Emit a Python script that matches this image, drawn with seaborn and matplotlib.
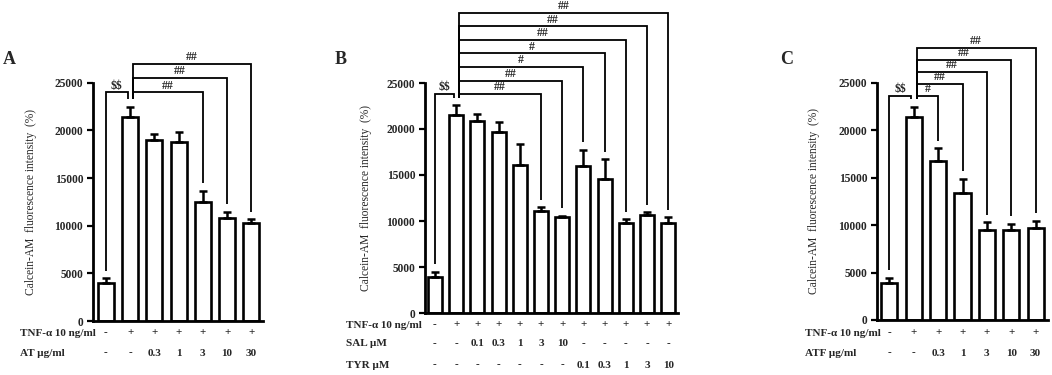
import numpy as np
import pandas as pd
import matplotlib
matplotlib.use("Agg")
import matplotlib.pyplot as plt
import matplotlib.transforms as mtransforms
import seaborn as sns

# ---------------- data ----------------
# Panel A
a_mean = [4020, 21370, 18960, 18810, 12450, 10800, 10310]
a_err = [460, 1110, 690, 990, 1190, 670, 360]
a_tnf = ["-", "+", "+", "+", "+", "+", "+"]
a_dose = ["-", "-", "0.3", "1", "3", "10", "30"]
a_sig_targets = [4, 5, 6]
a_sig_labels = ["##", "##", "##"]

# Panel B
b_mean = [3950, 21500, 20900, 19670, 16090, 11120, 10400, 16000, 14560, 9820, 10650, 9820]
b_err = [540, 1080, 700, 1060, 2280, 370, 180, 1750, 2180, 360, 330, 580]
b_tnf = ["-", "+", "+", "+", "+", "+", "+", "+", "+", "+", "+", "+"]
b_sal = ["-", "-", "0.1", "0.3", "1", "3", "10", "-", "-", "-", "-", "-"]
b_tyr = ["-", "-", "-", "-", "-", "-", "-", "0.1", "0.3", "1", "3", "10"]
b_sig_targets = [5, 6, 7, 8, 9, 10, 11]
b_sig_labels = ["##", "##", "#", "#", "##", "##", "##"]

# Panel C
c_mean = [3870, 21350, 16780, 13350, 9480, 9480, 9720]
c_err = [590, 1120, 1300, 1500, 810, 630, 740]
c_tnf = ["-", "+", "+", "+", "+", "+", "+"]
c_dose = ["-", "-", "0.3", "1", "3", "10", "30"]
c_sig_targets = [2, 3, 4, 5, 6]
c_sig_labels = ["#", "##", "##", "##", "##"]

ctrl_label = "$$"
y_ticks = [0, 5000, 10000, 15000, 20000, 25000]
ylabel_text = "Calcein-AM  fluorescence intensity  (%)"

# ---------------- style ----------------
sns.set_style("white")
plt.rcParams["font.family"] = ["Liberation Serif", "DejaVu Serif"]
plt.rcParams["mathtext.default"] = "regular"

W, H = 1052, 375
fig = plt.figure(figsize=(W / 100, H / 100), dpi=100)
fig.patch.set_facecolor("white")


def add_axes_px(l, r, top, bottom):
    return fig.add_axes([l / W, 1 - bottom / H, (r - l) / W, (bottom - top) / H])


def draw_panel(ax, means, errs, xlim, letter, letter_xy, rows, row_ys,
               row_label_x, targets, labels, base, step, ylabel_x):
    n = len(means)
    df = pd.DataFrame({"pos": list(range(n)), "val": means})
    sns.barplot(data=df, x="pos", y="val", ax=ax, color="white",
                edgecolor="black", linewidth=1.9, width=0.66,
                errorbar=None, saturation=1)
    ax.errorbar(df["pos"], df["val"], yerr=[np.zeros(n), errs], fmt="none",
                ecolor="black", elinewidth=1.8, capsize=3, capthick=1.8,
                zorder=3)
    ax.set_xlim(*xlim)
    ax.set_ylim(0, 25000)
    ax.set_yticks(y_ticks)
    ax.set_yticklabels([str(t) for t in y_ticks])
    for lbl in ax.get_yticklabels():
        lbl.set_fontweight("bold")
        lbl.set_fontsize(8.3)
    ax.tick_params(axis="y", direction="out", length=4, width=1.6, pad=3,
                   left=True, color="black")
    ax.tick_params(axis="x", length=0, labelbottom=False)
    for s in ["top", "right"]:
        ax.spines[s].set_visible(False)
    for s in ["left", "bottom"]:
        ax.spines[s].set_linewidth(2.0)
        ax.spines[s].set_color("black")
    ax.set_xlabel("")
    ax.set_ylabel(ylabel_text, fontsize=8.3)
    ax.yaxis.set_label_coords(ylabel_x, 0.5)
    ax.set_facecolor("white")

    # significance brackets
    tops = [m + e for m, e in zip(means, errs)]
    gap = 800
    kw = dict(color="black", lw=1.3, clip_on=False, solid_capstyle="butt",
              solid_joinstyle="miter")
    x1, x2 = 0, 1 - 0.1
    ax.plot([x1, x1, x2, x2], [tops[0] + gap, base, base, tops[1] + gap], **kw)
    ax.annotate(ctrl_label.replace("$", r"\$"), ((x1 + x2) / 2, base),
                xytext=(0, 0.5), textcoords="offset points", ha="center",
                va="bottom", fontsize=8.5, fontweight="bold",
                annotation_clip=False)
    xs = 1 + 0.12
    for i, (t, lab) in enumerate(zip(targets, labels)):
        lvl = base + i * step
        ax.plot([xs, xs, t, t], [tops[1] + gap, lvl, lvl, tops[t] + gap], **kw)
        ax.annotate(lab, ((xs + t) / 2, lvl), xytext=(0, 0.5),
                    textcoords="offset points", ha="center", va="bottom",
                    fontsize=8.5, fontweight="bold", annotation_clip=False)

    # treatment rows below the axis
    trans = mtransforms.blended_transform_factory(ax.transData, fig.transFigure)
    for (row_label, values), y in zip(rows, row_ys):
        fig.text(row_label_x / W, 1 - y / H, row_label, ha="left",
                 va="center", fontsize=8, fontweight="bold")
        for j, v in enumerate(values):
            ax.text(j, 1 - y / H, v, transform=trans, ha="center",
                    va="center", fontsize=8, fontweight="bold")

    fig.text(letter_xy[0] / W, 1 - letter_xy[1] / H, letter, ha="center",
             va="center", fontsize=13, fontweight="bold")


axA = add_axes_px(93, 263, 82.7, 321)
draw_panel(axA, a_mean, a_err, (-0.53, 6.48), "A", (9, 60),
           [("TNF-α 10 ng/ml", a_tnf), ("AT µg/ml", a_dose)], [333, 353],
           20, a_sig_targets, a_sig_labels, 24000, 1480, (37 - 93) / 170)

axB = add_axes_px(425, 678, 83, 313)
draw_panel(axB, b_mean, b_err, (-0.47, 11.46), "B", (341, 60),
           [("TNF-α 10 ng/ml", b_tnf), ("SAL µM", b_sal), ("TYR µM", b_tyr)],
           [325, 344, 365], 346, b_sig_targets, b_sig_labels, 23800, 1470,
           (372 - 425) / 253)

axC = add_axes_px(877, 1048, 82.7, 320)
draw_panel(axC, c_mean, c_err, (-0.51, 6.51), "C", (787, 60),
           [("TNF-α 10 ng/ml", c_tnf), ("ATF µg/ml", c_dose)], [333, 353],
           805, c_sig_targets, c_sig_labels, 23650, 1250, (820 - 877) / 171)

fig.savefig("out.png", dpi=100, facecolor="white")
